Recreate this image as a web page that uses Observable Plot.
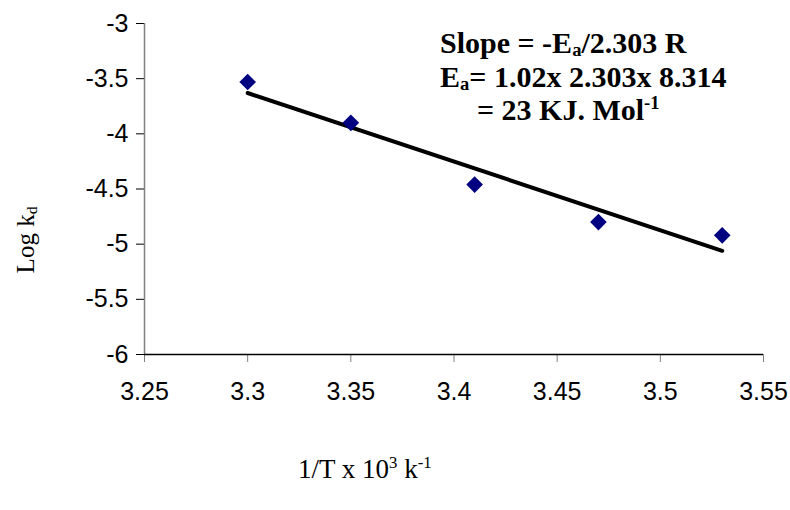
<!DOCTYPE html>
<html>
<head>
<meta charset="utf-8">
<script src="https://cdn.jsdelivr.net/npm/d3@7"></script>
<script src="https://cdn.jsdelivr.net/npm/@observablehq/plot@0.6"></script>
<style>
  html, body { margin: 0; padding: 0; background: #fff; }
  svg text { white-space: pre; }
</style>
</head>
<body>
<div id="chart"></div>
<script>
// ---- data ----
const invT = [3.30, 3.35, 3.41, 3.47, 3.53];          // 1/T x 10^3
const logKd = [-3.53, -3.90, -4.46, -4.80, -4.92];    // Log kd
const trendX = [3.30, 3.53];                            // fitted line ends
const trendY = [-3.63, -5.06];
const xTicks = [3.25, 3.30, 3.35, 3.40, 3.45, 3.50, 3.55];
const yTicks = [-6, -5.5, -5, -4.5, -4, -3.5, -3];
const annotationLines = [
  [["Slope = -E", ""], ["a", "sub"], ["/2.303 R", ""]],
  [["E", ""], ["a", "sub"], ["= 1.02x 2.303x 8.314", ""]],
  [["= 23 KJ. Mol", ""], ["-1", "sup"]]
];
const yLabelParts = [["Log k", ""], ["d", "sub"]];
const xLabelParts = [["1/T x 10", ""], ["3", "sup"], [" k", ""], ["-1", "sup"]];

const points = invT.map((x, i) => ({x, y: logKd[i]}));
const trend = trendX.map((x, i) => ({x, y: trendY[i]}));
const fmt = d => String(Math.round(d * 100) / 100);

const chart = Plot.plot({
  width: 790,
  height: 510,
  marginLeft: 144,
  marginRight: 27,
  marginTop: 23,
  marginBottom: 156,
  style: {background: "#fff", fontFamily: "'Liberation Sans', Arial, sans-serif", color: "#000"},
  x: {domain: [3.25, 3.55]},
  y: {domain: [-6, -3]},
  marks: [
    Plot.axisY(yTicks, {tickSize: 8, tickPadding: 8, fontSize: 25, stroke: "#000", fill: "#000", tickFormat: fmt, label: null}),
    Plot.axisX(xTicks, {tickSize: 8, tickPadding: 20, fontSize: 25, stroke: "#808080", fill: "#000", tickFormat: fmt, label: null}),
    Plot.ruleX([3.25], {stroke: "#808080", strokeWidth: 1.5}),
    Plot.ruleY([-6], {stroke: "#000", strokeWidth: 1.5}),
    Plot.line(trend, {x: "x", y: "y", stroke: "#000", strokeWidth: 4}),
    Plot.dot(points, {x: "x", y: "y", symbol: "diamond2", r: 7.5, fill: "#000080", stroke: "none"})
  ]
});
document.getElementById("chart").appendChild(chart);

const svg = d3.select(chart);
function richText(parent, parts, x, y, size, attrs) {
  const t = parent.append("text").attr("x", x).attr("y", y).attr("font-size", size)
    .attr("fill", "#000").attr("text-anchor", "start");
  for (const k in attrs) t.attr(k, attrs[k]);
  let shift = 0;
  for (const [s, kind] of parts) {
    const target = kind === "sub" ? size * 0.1 : kind === "sup" ? -size * 0.36 : 0;
    const ts = t.append("tspan").attr("dy", target - shift).text(s);
    if (kind) ts.attr("font-size", size * 0.62);
    shift = target;
  }
  return t;
}
const serif = "'Liberation Serif', 'Times New Roman', serif";
// annotation
const annX = [440, 440, 477];
const annY = [53, 87, 120];
annotationLines.forEach((parts, i) => {
  richText(svg, parts, annX[i], annY[i], 30, {"font-family": serif, "font-weight": "bold"});
});
// y label
const yl = svg.append("g").attr("transform", "translate(34,240) rotate(-90)");
richText(yl, yLabelParts, 0, 0, 25, {"font-family": serif, "text-anchor": "middle"});
// x label
richText(svg, xLabelParts, 298, 478, 27, {"font-family": serif});
</script>
</body>
</html>
